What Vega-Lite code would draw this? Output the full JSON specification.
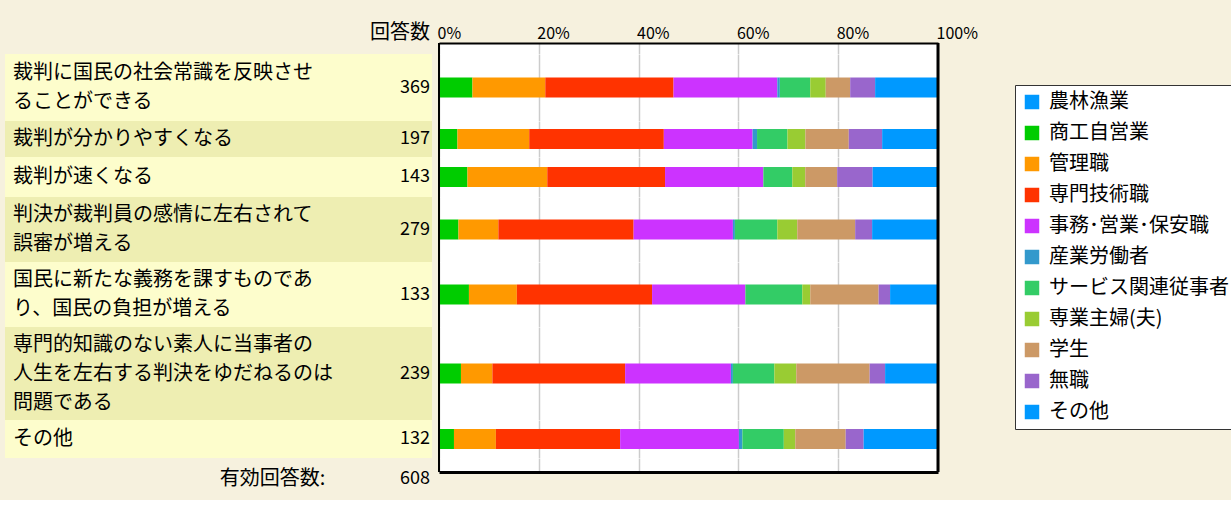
{
"$schema": "https://vega.github.io/schema/vega-lite/v6.json",
"background": "#f6f1de",
"padding": {"left": 5, "top": 0, "right": 0, "bottom": 0},
"config": {"view": {"stroke": null}, "font": "Noto Sans CJK JP", "text": {"color": "black"}},
"datasets": {
"rows": [
{"q": "q1", "lines": ["裁判に国民の社会常識を反映させ", "ることができる"], "n": 369},
{"q": "q2", "lines": ["裁判が分かりやすくなる"], "n": 197},
{"q": "q3", "lines": ["裁判が速くなる"], "n": 143},
{"q": "q4", "lines": ["判決が裁判員の感情に左右されて", "誤審が増える"], "n": 279},
{"q": "q5", "lines": ["国民に新たな義務を課すものであ", "り、国民の負担が増える"], "n": 133},
{"q": "q6", "lines": ["専門的知識のない素人に当事者の", "人生を左右する判決をゆだねるのは", "問題である"], "n": 239},
{"q": "q7", "lines": ["その他"], "n": 132},
{"q": "total", "lines": ["有効回答数:"], "n": 608}
],
"occs": [
{"occ":"農林漁業","k":0},{"occ":"商工自営業","k":1},{"occ":"管理職","k":2},{"occ":"専門技術職","k":3},{"occ":"事務･営業･保安職","k":4},{"occ":"産業労働者","k":5},{"occ":"サービス関連従事者","k":6},{"occ":"専業主婦(夫)","k":7},{"occ":"学生","k":8},{"occ":"無職","k":9},{"occ":"その他","k":10}
],
"shares": [
{"q":"q1","occ":"農林漁業","pct":0},{"q":"q1","occ":"商工自営業","pct":6.7},{"q":"q1","occ":"管理職","pct":14.6},{"q":"q1","occ":"専門技術職","pct":25.7},{"q":"q1","occ":"事務･営業･保安職","pct":20.8},{"q":"q1","occ":"産業労働者","pct":0.5},{"q":"q1","occ":"サービス関連従事者","pct":6.1},{"q":"q1","occ":"専業主婦(夫)","pct":3.1},{"q":"q1","occ":"学生","pct":4.9},{"q":"q1","occ":"無職","pct":5.0},{"q":"q1","occ":"その他","pct":12.6},
{"q":"q2","occ":"農林漁業","pct":0},{"q":"q2","occ":"商工自営業","pct":3.7},{"q":"q2","occ":"管理職","pct":14.4},{"q":"q2","occ":"専門技術職","pct":27.0},{"q":"q2","occ":"事務･営業･保安職","pct":17.8},{"q":"q2","occ":"産業労働者","pct":0.9},{"q":"q2","occ":"サービス関連従事者","pct":6.1},{"q":"q2","occ":"専業主婦(夫)","pct":3.6},{"q":"q2","occ":"学生","pct":8.7},{"q":"q2","occ":"無職","pct":6.7},{"q":"q2","occ":"その他","pct":11.2},
{"q":"q3","occ":"農林漁業","pct":0},{"q":"q3","occ":"商工自営業","pct":5.7},{"q":"q3","occ":"管理職","pct":16.0},{"q":"q3","occ":"専門技術職","pct":23.6},{"q":"q3","occ":"事務･営業･保安職","pct":19.7},{"q":"q3","occ":"産業労働者","pct":0},{"q":"q3","occ":"サービス関連従事者","pct":5.8},{"q":"q3","occ":"専業主婦(夫)","pct":2.6},{"q":"q3","occ":"学生","pct":6.4},{"q":"q3","occ":"無職","pct":7.1},{"q":"q3","occ":"その他","pct":13.1},
{"q":"q4","occ":"農林漁業","pct":0},{"q":"q4","occ":"商工自営業","pct":3.9},{"q":"q4","occ":"管理職","pct":8.0},{"q":"q4","occ":"専門技術職","pct":27.1},{"q":"q4","occ":"事務･営業･保安職","pct":19.9},{"q":"q4","occ":"産業労働者","pct":0.4},{"q":"q4","occ":"サービス関連従事者","pct":8.5},{"q":"q4","occ":"専業主婦(夫)","pct":4.0},{"q":"q4","occ":"学生","pct":11.6},{"q":"q4","occ":"無職","pct":3.4},{"q":"q4","occ":"その他","pct":13.2},
{"q":"q5","occ":"農林漁業","pct":0},{"q":"q5","occ":"商工自営業","pct":6.0},{"q":"q5","occ":"管理職","pct":9.6},{"q":"q5","occ":"専門技術職","pct":27.1},{"q":"q5","occ":"事務･営業･保安職","pct":18.7},{"q":"q5","occ":"産業労働者","pct":0},{"q":"q5","occ":"サービス関連従事者","pct":11.4},{"q":"q5","occ":"専業主婦(夫)","pct":1.6},{"q":"q5","occ":"学生","pct":13.7},{"q":"q5","occ":"無職","pct":2.3},{"q":"q5","occ":"その他","pct":9.6},
{"q":"q6","occ":"農林漁業","pct":0},{"q":"q6","occ":"商工自営業","pct":4.4},{"q":"q6","occ":"管理職","pct":6.3},{"q":"q6","occ":"専門技術職","pct":26.6},{"q":"q6","occ":"事務･営業･保安職","pct":21.2},{"q":"q6","occ":"産業労働者","pct":0.4},{"q":"q6","occ":"サービス関連従事者","pct":8.3},{"q":"q6","occ":"専業主婦(夫)","pct":4.4},{"q":"q6","occ":"学生","pct":14.7},{"q":"q6","occ":"無職","pct":3.1},{"q":"q6","occ":"その他","pct":10.6},
{"q":"q7","occ":"農林漁業","pct":0},{"q":"q7","occ":"商工自営業","pct":3.0},{"q":"q7","occ":"管理職","pct":8.4},{"q":"q7","occ":"専門技術職","pct":24.9},{"q":"q7","occ":"事務･営業･保安職","pct":23.8},{"q":"q7","occ":"産業労働者","pct":0.7},{"q":"q7","occ":"サービス関連従事者","pct":8.3},{"q":"q7","occ":"専業主婦(夫)","pct":2.3},{"q":"q7","occ":"学生","pct":10.1},{"q":"q7","occ":"無職","pct":3.6},{"q":"q7","occ":"その他","pct":14.9}
]
},
"bounds": "flush",
"columns": 2,
"spacing": {"row": 0, "column": 7},
"concat": [
 {"height": 43, "width": 427, "data": {"values": [{"h": "回答数"}]},
  "mark": {"type": "text", "align": "right", "baseline": "bottom", "dx": -2, "dy": 0, "fontSize": 20},
  "encoding": {"x": {"datum": 1, "type": "quantitative", "scale": {"domain": [0, 1]}, "axis": null}, "y": {"datum": 0, "type": "quantitative", "scale": {"domain": [0, 1]}, "axis": null}, "text": {"field": "h", "type": "nominal"}}},
 {"height": 43, "width": 499, "data": {"values": [{}]}, "mark": {"type": "text", "text": ""}, "encoding": {}},

 {"height": 11, "width": 427, "data": {"values": [{}]}, "mark": {"type": "text", "text": ""}, "encoding": {}},
 {"height": 11, "width": 499, "view": {"fill": "white", "stroke": null}, "data": {"values": [{}]},
  "layer": [
   {"mark": {"type": "rule", "color": "black", "strokeWidth": 2}, "encoding": {"x": {"datum": 0, "type": "quantitative", "title": null, "scale": {"domain": [0, 1]}, "axis": {"orient": "top", "values": [0, 0.2, 0.4, 0.6, 0.8, 1], "format": ".0%", "grid": true, "gridColor": "#cccccc", "gridWidth": 1.5, "ticks": false, "domain": true, "domainColor": "black", "domainWidth": 2, "labelFontSize": 16, "labelAlign": "left", "labelOffset": -2, "labelPadding": 2, "labelColor": "black", "labelFlush": false, "labelOverlap": false}}}},
   {"mark": {"type": "rule", "color": "black", "strokeWidth": 3}, "encoding": {"x": {"datum": 1, "type": "quantitative"}}}
  ]},

 {"height": 67, "width": 427, "view": {"fill": "#fdfdcc", "stroke": null}, "data": {"name": "rows"}, "transform": [{"filter": "datum.q === 'q1'"}],
  "layer": [
   {"mark": {"type": "text", "align": "left", "baseline": "middle", "dx": 8, "dy": -14.5, "fontSize": 20, "lineHeight": 29}, "encoding": {"x": {"datum": 0, "type": "quantitative", "scale": {"domain": [0, 1]}, "axis": null}, "y": {"field": "q", "type": "nominal", "axis": null}, "text": {"field": "lines", "type": "nominal"}}},
   {"mark": {"type": "text", "align": "right", "baseline": "middle", "dx": -2, "fontSize": 18}, "encoding": {"x": {"datum": 1, "type": "quantitative", "axis": null}, "y": {"field": "q", "type": "nominal", "axis": null}, "text": {"field": "n", "type": "quantitative"}}}
  ]},
 {"height": 67, "width": 499, "view": {"fill": "white", "stroke": null}, "data": {"values": [{}]},
  "layer": [
   {"data": {"name": "shares"}, "transform": [{"filter": "datum.q === 'q1'"}, {"lookup": "occ", "from": {"data": {"name": "occs"}, "key": "occ", "fields": ["k"]}}], "mark": {"type": "bar", "size": 20},
    "encoding": {"x": {"field": "pct", "type": "quantitative", "stack": "normalize", "title": null, "scale": {"domain": [0, 1]}, "axis": {"orient": "bottom", "values": [0, 0.2, 0.4, 0.6, 0.8, 1], "grid": true, "gridColor": "#cccccc", "gridWidth": 1.5, "labels": false, "ticks": false, "domain": false}},
     "y": {"field": "q", "type": "nominal", "axis": null},
     "order": {"field": "k", "type": "quantitative", "sort": "ascending"},
     "color": {"field": "occ", "type": "nominal", "sort": ["農林漁業","商工自営業","管理職","専門技術職","事務･営業･保安職","産業労働者","サービス関連従事者","専業主婦(夫)","学生","無職","その他"],
      "scale": {"domain": ["農林漁業","商工自営業","管理職","専門技術職","事務･営業･保安職","産業労働者","サービス関連従事者","専業主婦(夫)","学生","無職","その他"], "range": ["#0099ff","#00cc00","#ff9900","#ff3300","#cc33ff","#3399cc","#33cc66","#99cc33","#cc9966","#9966cc","#0099ff"]},
      "legend": {"orient": "none", "legendX": 1010, "legendY": 85, "title": null, "symbolType": "square", "symbolSize": 210, "symbolStrokeWidth": 0, "symbolOpacity": 1, "labelFontSize": 20, "labelColor": "black", "labelLimit": 400, "labelOffset": 7, "rowPadding": 11, "padding": 7, "strokeColor": "#333333", "fillColor": "white"}}}},
   {"mark": {"type": "rule", "color": "black", "strokeWidth": 2}, "encoding": {"x": {"datum": 0, "type": "quantitative"}}},
   {"mark": {"type": "rule", "color": "black", "strokeWidth": 3}, "encoding": {"x": {"datum": 1, "type": "quantitative"}}}
  ]},

 {"height": 36, "width": 427, "view": {"fill": "#eeeeb2", "stroke": null}, "data": {"name": "rows"}, "transform": [{"filter": "datum.q === 'q2'"}],
  "layer": [
   {"mark": {"type": "text", "align": "left", "baseline": "middle", "dx": 8, "fontSize": 20, "lineHeight": 29}, "encoding": {"x": {"datum": 0, "type": "quantitative", "scale": {"domain": [0, 1]}, "axis": null}, "y": {"field": "q", "type": "nominal", "axis": null}, "text": {"field": "lines", "type": "nominal"}}},
   {"mark": {"type": "text", "align": "right", "baseline": "middle", "dx": -2, "fontSize": 18}, "encoding": {"x": {"datum": 1, "type": "quantitative", "axis": null}, "y": {"field": "q", "type": "nominal", "axis": null}, "text": {"field": "n", "type": "quantitative"}}}
  ]},
 {"height": 36, "width": 499, "view": {"fill": "white", "stroke": null}, "data": {"values": [{}]},
  "layer": [
   {"data": {"name": "shares"}, "transform": [{"filter": "datum.q === 'q2'"}, {"lookup": "occ", "from": {"data": {"name": "occs"}, "key": "occ", "fields": ["k"]}}], "mark": {"type": "bar", "size": 20},
    "encoding": {"x": {"field": "pct", "type": "quantitative", "stack": "normalize", "title": null, "scale": {"domain": [0, 1]}, "axis": {"orient": "bottom", "values": [0, 0.2, 0.4, 0.6, 0.8, 1], "grid": true, "gridColor": "#cccccc", "gridWidth": 1.5, "labels": false, "ticks": false, "domain": false}},
     "y": {"field": "q", "type": "nominal", "axis": null},
     "order": {"field": "k", "type": "quantitative", "sort": "ascending"},
     "color": {"field": "occ", "type": "nominal"}}},
   {"mark": {"type": "rule", "color": "black", "strokeWidth": 2}, "encoding": {"x": {"datum": 0, "type": "quantitative"}}},
   {"mark": {"type": "rule", "color": "black", "strokeWidth": 3}, "encoding": {"x": {"datum": 1, "type": "quantitative"}}}
  ]},

 {"height": 40, "width": 427, "view": {"fill": "#fdfdcc", "stroke": null}, "data": {"name": "rows"}, "transform": [{"filter": "datum.q === 'q3'"}],
  "layer": [
   {"mark": {"type": "text", "align": "left", "baseline": "middle", "dx": 8, "fontSize": 20, "lineHeight": 29}, "encoding": {"x": {"datum": 0, "type": "quantitative", "scale": {"domain": [0, 1]}, "axis": null}, "y": {"field": "q", "type": "nominal", "axis": null}, "text": {"field": "lines", "type": "nominal"}}},
   {"mark": {"type": "text", "align": "right", "baseline": "middle", "dx": -2, "fontSize": 18}, "encoding": {"x": {"datum": 1, "type": "quantitative", "axis": null}, "y": {"field": "q", "type": "nominal", "axis": null}, "text": {"field": "n", "type": "quantitative"}}}
  ]},
 {"height": 40, "width": 499, "view": {"fill": "white", "stroke": null}, "data": {"values": [{}]},
  "layer": [
   {"data": {"name": "shares"}, "transform": [{"filter": "datum.q === 'q3'"}, {"lookup": "occ", "from": {"data": {"name": "occs"}, "key": "occ", "fields": ["k"]}}], "mark": {"type": "bar", "size": 20},
    "encoding": {"x": {"field": "pct", "type": "quantitative", "stack": "normalize", "title": null, "scale": {"domain": [0, 1]}, "axis": {"orient": "bottom", "values": [0, 0.2, 0.4, 0.6, 0.8, 1], "grid": true, "gridColor": "#cccccc", "gridWidth": 1.5, "labels": false, "ticks": false, "domain": false}},
     "y": {"field": "q", "type": "nominal", "axis": null},
     "order": {"field": "k", "type": "quantitative", "sort": "ascending"},
     "color": {"field": "occ", "type": "nominal"}}},
   {"mark": {"type": "rule", "color": "black", "strokeWidth": 2}, "encoding": {"x": {"datum": 0, "type": "quantitative"}}},
   {"mark": {"type": "rule", "color": "black", "strokeWidth": 3}, "encoding": {"x": {"datum": 1, "type": "quantitative"}}}
  ]},

 {"height": 65, "width": 427, "view": {"fill": "#eeeeb2", "stroke": null}, "data": {"name": "rows"}, "transform": [{"filter": "datum.q === 'q4'"}],
  "layer": [
   {"mark": {"type": "text", "align": "left", "baseline": "middle", "dx": 8, "dy": -14.5, "fontSize": 20, "lineHeight": 29}, "encoding": {"x": {"datum": 0, "type": "quantitative", "scale": {"domain": [0, 1]}, "axis": null}, "y": {"field": "q", "type": "nominal", "axis": null}, "text": {"field": "lines", "type": "nominal"}}},
   {"mark": {"type": "text", "align": "right", "baseline": "middle", "dx": -2, "fontSize": 18}, "encoding": {"x": {"datum": 1, "type": "quantitative", "axis": null}, "y": {"field": "q", "type": "nominal", "axis": null}, "text": {"field": "n", "type": "quantitative"}}}
  ]},
 {"height": 65, "width": 499, "view": {"fill": "white", "stroke": null}, "data": {"values": [{}]},
  "layer": [
   {"data": {"name": "shares"}, "transform": [{"filter": "datum.q === 'q4'"}, {"lookup": "occ", "from": {"data": {"name": "occs"}, "key": "occ", "fields": ["k"]}}], "mark": {"type": "bar", "size": 20},
    "encoding": {"x": {"field": "pct", "type": "quantitative", "stack": "normalize", "title": null, "scale": {"domain": [0, 1]}, "axis": {"orient": "bottom", "values": [0, 0.2, 0.4, 0.6, 0.8, 1], "grid": true, "gridColor": "#cccccc", "gridWidth": 1.5, "labels": false, "ticks": false, "domain": false}},
     "y": {"field": "q", "type": "nominal", "axis": null},
     "order": {"field": "k", "type": "quantitative", "sort": "ascending"},
     "color": {"field": "occ", "type": "nominal"}}},
   {"mark": {"type": "rule", "color": "black", "strokeWidth": 2}, "encoding": {"x": {"datum": 0, "type": "quantitative"}}},
   {"mark": {"type": "rule", "color": "black", "strokeWidth": 3}, "encoding": {"x": {"datum": 1, "type": "quantitative"}}}
  ]},

 {"height": 65, "width": 427, "view": {"fill": "#fdfdcc", "stroke": null}, "data": {"name": "rows"}, "transform": [{"filter": "datum.q === 'q5'"}],
  "layer": [
   {"mark": {"type": "text", "align": "left", "baseline": "middle", "dx": 8, "dy": -14.5, "fontSize": 20, "lineHeight": 29}, "encoding": {"x": {"datum": 0, "type": "quantitative", "scale": {"domain": [0, 1]}, "axis": null}, "y": {"field": "q", "type": "nominal", "axis": null}, "text": {"field": "lines", "type": "nominal"}}},
   {"mark": {"type": "text", "align": "right", "baseline": "middle", "dx": -2, "fontSize": 18}, "encoding": {"x": {"datum": 1, "type": "quantitative", "axis": null}, "y": {"field": "q", "type": "nominal", "axis": null}, "text": {"field": "n", "type": "quantitative"}}}
  ]},
 {"height": 65, "width": 499, "view": {"fill": "white", "stroke": null}, "data": {"values": [{}]},
  "layer": [
   {"data": {"name": "shares"}, "transform": [{"filter": "datum.q === 'q5'"}, {"lookup": "occ", "from": {"data": {"name": "occs"}, "key": "occ", "fields": ["k"]}}], "mark": {"type": "bar", "size": 20},
    "encoding": {"x": {"field": "pct", "type": "quantitative", "stack": "normalize", "title": null, "scale": {"domain": [0, 1]}, "axis": {"orient": "bottom", "values": [0, 0.2, 0.4, 0.6, 0.8, 1], "grid": true, "gridColor": "#cccccc", "gridWidth": 1.5, "labels": false, "ticks": false, "domain": false}},
     "y": {"field": "q", "type": "nominal", "axis": null},
     "order": {"field": "k", "type": "quantitative", "sort": "ascending"},
     "color": {"field": "occ", "type": "nominal"}}},
   {"mark": {"type": "rule", "color": "black", "strokeWidth": 2}, "encoding": {"x": {"datum": 0, "type": "quantitative"}}},
   {"mark": {"type": "rule", "color": "black", "strokeWidth": 3}, "encoding": {"x": {"datum": 1, "type": "quantitative"}}}
  ]},

 {"height": 93, "width": 427, "view": {"fill": "#eeeeb2", "stroke": null}, "data": {"name": "rows"}, "transform": [{"filter": "datum.q === 'q6'"}],
  "layer": [
   {"mark": {"type": "text", "align": "left", "baseline": "middle", "dx": 8, "dy": -29, "fontSize": 20, "lineHeight": 29}, "encoding": {"x": {"datum": 0, "type": "quantitative", "scale": {"domain": [0, 1]}, "axis": null}, "y": {"field": "q", "type": "nominal", "axis": null}, "text": {"field": "lines", "type": "nominal"}}},
   {"mark": {"type": "text", "align": "right", "baseline": "middle", "dx": -2, "fontSize": 18}, "encoding": {"x": {"datum": 1, "type": "quantitative", "axis": null}, "y": {"field": "q", "type": "nominal", "axis": null}, "text": {"field": "n", "type": "quantitative"}}}
  ]},
 {"height": 93, "width": 499, "view": {"fill": "white", "stroke": null}, "data": {"values": [{}]},
  "layer": [
   {"data": {"name": "shares"}, "transform": [{"filter": "datum.q === 'q6'"}, {"lookup": "occ", "from": {"data": {"name": "occs"}, "key": "occ", "fields": ["k"]}}], "mark": {"type": "bar", "size": 20},
    "encoding": {"x": {"field": "pct", "type": "quantitative", "stack": "normalize", "title": null, "scale": {"domain": [0, 1]}, "axis": {"orient": "bottom", "values": [0, 0.2, 0.4, 0.6, 0.8, 1], "grid": true, "gridColor": "#cccccc", "gridWidth": 1.5, "labels": false, "ticks": false, "domain": false}},
     "y": {"field": "q", "type": "nominal", "axis": null},
     "order": {"field": "k", "type": "quantitative", "sort": "ascending"},
     "color": {"field": "occ", "type": "nominal"}}},
   {"mark": {"type": "rule", "color": "black", "strokeWidth": 2}, "encoding": {"x": {"datum": 0, "type": "quantitative"}}},
   {"mark": {"type": "rule", "color": "black", "strokeWidth": 3}, "encoding": {"x": {"datum": 1, "type": "quantitative"}}}
  ]},

 {"height": 38, "width": 427, "view": {"fill": "#fdfdcc", "stroke": null}, "data": {"name": "rows"}, "transform": [{"filter": "datum.q === 'q7'"}],
  "layer": [
   {"mark": {"type": "text", "align": "left", "baseline": "middle", "dx": 8, "fontSize": 20, "lineHeight": 29}, "encoding": {"x": {"datum": 0, "type": "quantitative", "scale": {"domain": [0, 1]}, "axis": null}, "y": {"field": "q", "type": "nominal", "axis": null}, "text": {"field": "lines", "type": "nominal"}}},
   {"mark": {"type": "text", "align": "right", "baseline": "middle", "dx": -2, "fontSize": 18}, "encoding": {"x": {"datum": 1, "type": "quantitative", "axis": null}, "y": {"field": "q", "type": "nominal", "axis": null}, "text": {"field": "n", "type": "quantitative"}}}
  ]},
 {"height": 38, "width": 499, "view": {"fill": "white", "stroke": null}, "data": {"values": [{}]},
  "layer": [
   {"data": {"name": "shares"}, "transform": [{"filter": "datum.q === 'q7'"}, {"lookup": "occ", "from": {"data": {"name": "occs"}, "key": "occ", "fields": ["k"]}}], "mark": {"type": "bar", "size": 20},
    "encoding": {"x": {"field": "pct", "type": "quantitative", "stack": "normalize", "title": null, "scale": {"domain": [0, 1]}, "axis": {"orient": "bottom", "values": [0, 0.2, 0.4, 0.6, 0.8, 1], "grid": true, "gridColor": "#cccccc", "gridWidth": 1.5, "labels": false, "ticks": false, "domain": false}},
     "y": {"field": "q", "type": "nominal", "axis": null},
     "order": {"field": "k", "type": "quantitative", "sort": "ascending"},
     "color": {"field": "occ", "type": "nominal"}}},
   {"mark": {"type": "rule", "color": "black", "strokeWidth": 2}, "encoding": {"x": {"datum": 0, "type": "quantitative"}}},
   {"mark": {"type": "rule", "color": "black", "strokeWidth": 3}, "encoding": {"x": {"datum": 1, "type": "quantitative"}}}
  ]},

 {"height": 42, "width": 427, "data": {"name": "rows"}, "transform": [{"filter": "datum.q === 'total'"}],
  "layer": [
   {"mark": {"type": "text", "align": "right", "baseline": "middle", "fontSize": 20}, "encoding": {"x": {"datum": 0.75, "type": "quantitative", "scale": {"domain": [0, 1]}, "axis": null}, "y": {"field": "q", "type": "nominal", "axis": null}, "text": {"field": "lines", "type": "nominal"}}},
   {"mark": {"type": "text", "align": "right", "baseline": "middle", "dx": -2, "fontSize": 18}, "encoding": {"x": {"datum": 1, "type": "quantitative", "axis": null}, "y": {"field": "q", "type": "nominal", "axis": null}, "text": {"field": "n", "type": "quantitative"}}}
  ]},
 {"height": 14, "width": 499, "view": {"fill": "white", "stroke": null}, "data": {"values": [{}]},
  "layer": [
   {"mark": {"type": "rule", "color": "black", "strokeWidth": 2}, "encoding": {"x": {"datum": 0, "type": "quantitative", "title": null, "scale": {"domain": [0, 1]}, "axis": {"orient": "bottom", "values": [0, 0.2, 0.4, 0.6, 0.8, 1], "grid": true, "gridColor": "#cccccc", "gridWidth": 1.5, "labels": false, "ticks": false, "domain": true, "domainColor": "black", "domainWidth": 3}}}},
   {"mark": {"type": "rule", "color": "black", "strokeWidth": 3}, "encoding": {"x": {"datum": 1, "type": "quantitative"}}}
  ]}
]
}
